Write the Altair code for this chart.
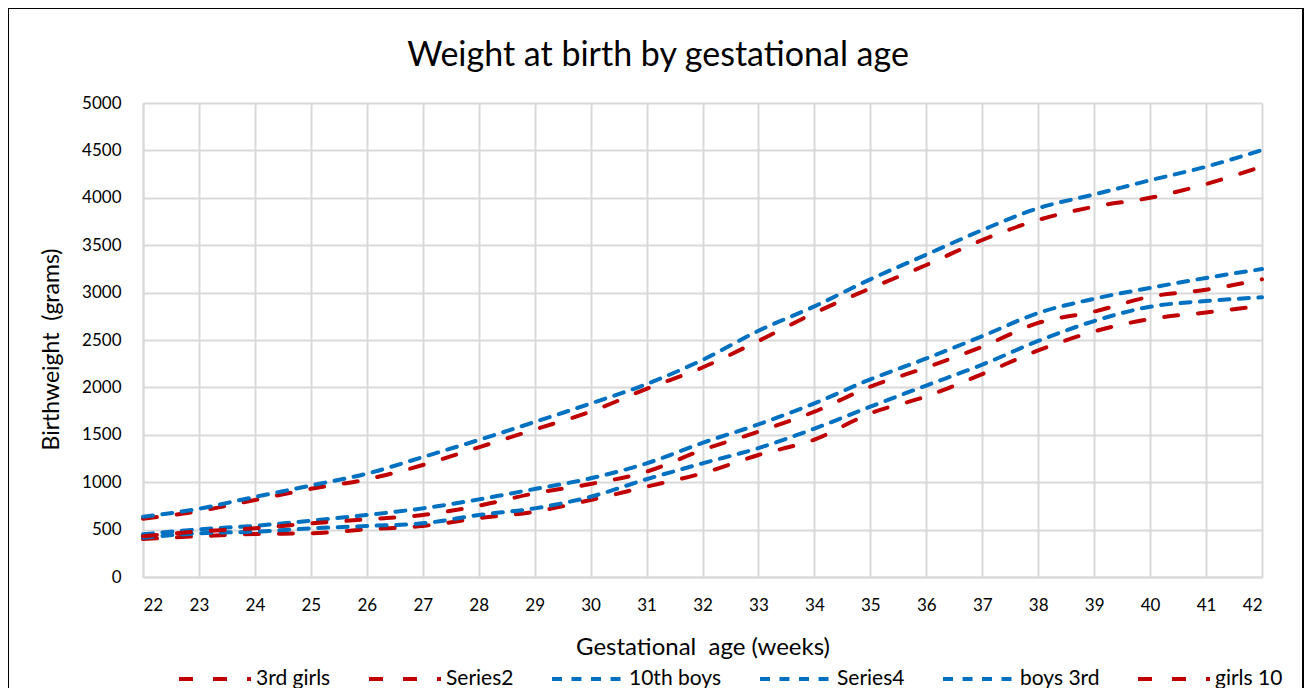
import altair as alt
import pandas as pd

# ---- data ----
weeks = list(range(22, 43))
series_names = ["3rd girls", "Series2", "10th boys", "Series4", "boys 3rd", "girls 10"]

girls_3rd = [400, 430, 454, 461, 503, 538, 620, 689, 812, 953, 1094, 1287, 1450, 1727, 1905, 2140, 2390, 2590, 2722, 2790, 2860]
series2 = [615, 695, 812, 930, 1030, 1181, 1368, 1555, 1744, 1985, 2210, 2490, 2785, 3045, 3291, 3555, 3766, 3906, 4000, 4145, 4330]
boys_10th = [450, 503, 540, 594, 654, 724, 819, 928, 1041, 1199, 1415, 1610, 1832, 2085, 2305, 2540, 2785, 2935, 3050, 3155, 3248]
series4 = [636, 720, 845, 965, 1090, 1265, 1445, 1635, 1830, 2035, 2290, 2597, 2855, 3140, 3400, 3660, 3890, 4035, 4185, 4328, 4504]
boys_3rd = [415, 461, 478, 513, 538, 566, 654, 724, 847, 1031, 1199, 1360, 1565, 1797, 2020, 2240, 2490, 2700, 2851, 2911, 2950]
girls_10 = [430, 480, 513, 566, 608, 654, 752, 883, 981, 1111, 1340, 1533, 1744, 2008, 2210, 2430, 2680, 2800, 2957, 3030, 3140]

series_values = [girls_3rd, series2, boys_10th, series4, boys_3rd, girls_10]
y_ticks = list(range(0, 5001, 500))
title_text = ["Weight at birth by gestational age"]

# ---- styles ----
RED = "#C00000"
BLUE = "#0070C0"
colors = [RED, RED, BLUE, BLUE, BLUE, RED]
dashes = [[14, 20], [14, 20], [10, 9.5], [10, 9.5], [10, 9.5], [14, 20]]
FONT = "Lato, Liberation Sans, sans-serif"
GRID = "#d9d9d9"

rows = []
for name, vals in zip(series_names, series_values):
    for w, v in zip(weeks, vals):
        rows.append({"week": w, "weight": v, "series": name})
df = pd.DataFrame(rows)

PW, PH = 1119, 474
PAD_L, PAD_T = 135, 95
PAD_R = 1296 - PAD_L - PW
PAD_B = 680 - PAD_T - PH

legend = alt.Legend(
    title=None,
    orient="none",
    legendX=34,
    legendY=538,
    direction="horizontal",
    columns=6,
    gridAlign="none",
    symbolType="stroke",
    symbolSize=5184,
    symbolStrokeWidth=4,
    labelFontSize=21,
    labelFont=FONT,
    labelColor="#000000",
    labelOffset=3,
    columnPadding=30,
)

lines = alt.Chart(df).mark_line(strokeWidth=4, strokeCap="round", interpolate="monotone").encode(
    x=alt.X(
        "week:Q",
        scale=alt.Scale(domain=[22, 42], nice=False, zero=False),
        axis=alt.Axis(
            values=weeks,
            format="d",
            title="Gestational\u00a0 age (weeks)",
            ticks=False,
            labelPadding=20,
            titlePadding=22,
            titleFontSize=24,
        ),
    ),
    y=alt.Y(
        "weight:Q",
        scale=alt.Scale(domain=[0, 5000], nice=False),
        axis=alt.Axis(
            values=y_ticks,
            format="d",
            title="Birthweight\u00a0 (grams)",
            ticks=False,
            labelPadding=22,
            titlePadding=18,
            titleFontSize=23,
            titleY=246,
        ),
    ),
    color=alt.Color("series:N", scale=alt.Scale(domain=series_names, range=colors), legend=legend),
    strokeDash=alt.StrokeDash("series:N", scale=alt.Scale(domain=series_names, range=dashes), legend=legend),
)

frame = alt.Chart(pd.DataFrame({"f": [0]})).mark_rect(
    fill="white", fillOpacity=0, stroke="black", strokeWidth=2
).encode(
    x=alt.value(-135),
    x2=alt.value(1160),
    y=alt.value(-95),
    y2=alt.value(720),
)

title = alt.Chart(pd.DataFrame({"t": title_text})).mark_text(
    font=FONT, fontSize=34, color="#000000", align="center", baseline="alphabetic"
).encode(
    text="t:N",
    x=alt.value(515),
    y=alt.value(-37),
)

chart = alt.layer(frame, lines, title).properties(
    width=PW,
    height=PH,
    autosize=alt.AutoSizeParams(type="none"),
    padding={"left": PAD_L, "top": PAD_T, "right": PAD_R, "bottom": PAD_B},
).configure_axis(
    labelFont=FONT,
    titleFont=FONT,
    labelFontSize=17,
    titleFontWeight="normal",
    labelColor="#000000",
    titleColor="#000000",
    gridColor=GRID,
    gridWidth=2,
    gridOpacity=1,
    domainColor=GRID,
    domainWidth=2,
).configure_view(stroke=None)

chart.save("out.html", embed_options={"renderer": "svg", "actions": False})
